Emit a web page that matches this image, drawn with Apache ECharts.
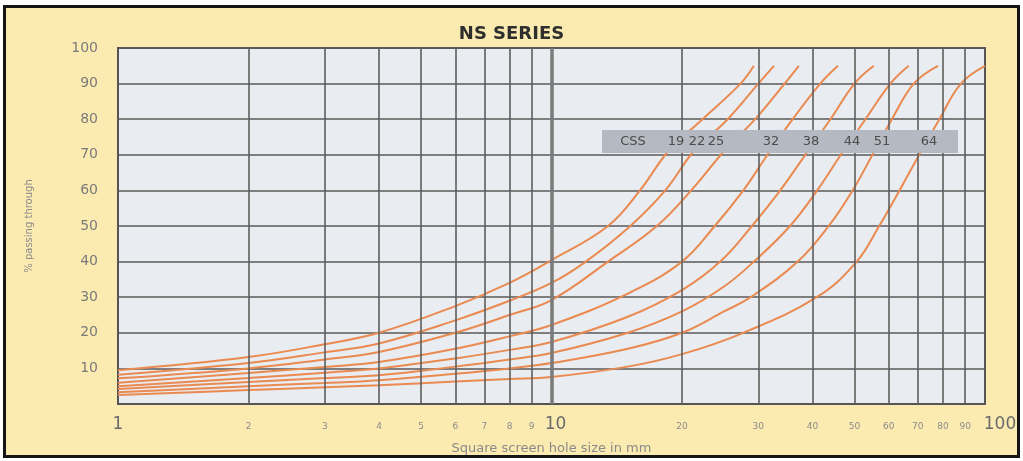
<!DOCTYPE html>
<html><head><meta charset="utf-8">
<script src="https://cdn.jsdelivr.net/npm/echarts@6/dist/echarts.min.js"></script>
<style>
html,body{margin:0;padding:0;background:#fff;}
#frame{position:absolute;left:3px;top:5px;width:1011px;height:447px;border:3px solid #151515;background:#FCEBB1;}
#c{position:absolute;left:0;top:0;width:1023px;height:461px;}
</style></head><body>
<div id="frame"></div><div id="c"></div>
<script>
const titleText = 'NS SERIES';
const xAxisName = 'Square screen hole size in mm';
const yAxisName = '% passing through';
const minorTicks = [2, 3, 4, 5, 6, 7, 8, 9, 20, 30, 40, 50, 60, 70, 80, 90];
const yTicks = [10, 20, 30, 40, 50, 60, 70, 80, 90, 100];
const seriesNames = ['CSS 19', 'CSS 22', 'CSS 25', 'CSS 32', 'CSS 38', 'CSS 44', 'CSS 51', 'CSS 64'];
const cssLabels = ['CSS', '19', '22', '25', '32', '38', '44', '51', '64'];

const css19 = [[1,9.5],[2,13.2],[3,16.8],[4,20],[6,27.5],[8,34],[10,40.4],[13.5,50],[16,60],[18.6,71],[22.3,80],[27.3,90],[29.3,95]];
const css22 = [[1,8.2],[2,11.5],[3,14.5],[4,17],[6,23.5],[8,29],[10,34],[12,40],[15.2,50],[18.3,60],[21.3,71],[25.5,80],[30,90],[32.6,95]];
const css25 = [[1,7.2],[2,10],[3,12.5],[4,14.6],[6,20],[8,25],[10,29.2],[13.5,40],[17.5,50],[21,60],[25,71],[29.5,80],[34.5,90],[37.2,95]];
const css32 = [[1,6],[2,8.7],[3,10.4],[4,11.8],[6,15.5],[8,19],[10,22.2],[15,31],[20,40],[23.8,50],[27.7,60],[31.5,70],[36,80],[41.7,90],[45.8,95]];
const css38 = [[1,5],[2,7.3],[3,8.8],[4,10],[6,12.8],[8,15.2],[10,17.4],[15,24.5],[20,32],[24.5,40],[29,50],[33.7,60],[38.5,70],[44,80],[50,90],[55.4,95]];
const css44 = [[1,4.2],[2,6.2],[3,7.3],[4,8.1],[6,10.5],[8,12.5],[10,14.3],[15,20],[20,26],[25,33],[29.3,40],[35.5,50],[41,60],[46.5,70],[53,80],[60.5,90],[66.7,95]];
const css51 = [[1,3.3],[2,5],[3,5.9],[4,6.7],[6,8.5],[8,10],[10,11.5],[15,15.5],[20,20],[25,26],[28.8,30],[37,40],[43.6,50],[49.5,60],[55,70],[61,80],[68.5,90],[77.9,95]];
const css64 = [[1,2.5],[2,3.9],[3,4.7],[4,5.3],[6,6.3],[8,7],[10,7.6],[15,10.5],[20,14],[27.7,20],[40.9,30],[50.6,40],[57,50],[63.5,60],[70.5,70],[78.5,80],[88,90],[100,95]];
const curves = [css19, css22, css25, css32, css38, css44, css51, css64];

const chart = echarts.init(document.getElementById('c'), null, {renderer: 'canvas'});
const FONT = 'DejaVu Sans';

const curveSeries = curves.map((d, i) => ({
  name: seriesNames[i],
  type: 'line',
  data: d,
  smooth: 0.4,
  symbol: 'none',
  z: 3,
  lineStyle: {color: '#EA8A50', width: 2},
  silent: true
}));

const gridLineSeries = {
  type: 'line',
  data: [[1, 0]],
  symbol: 'none',
  lineStyle: {opacity: 0},
  z: 1,
  silent: true,
  markLine: {
    silent: true,
    symbol: ['none', 'none'],
    animation: false,
    lineStyle: {color: '#5e5e5e', width: 1.6, type: 'solid'},
    label: {
      show: true, position: 'start', distance: 18,
      color: '#8a8a8a', fontSize: 9, fontFamily: FONT,
      formatter: p => String(p.value)
    },
    data: minorTicks.map(v => ({xAxis: v})).concat([
      {xAxis: 10, lineStyle: {color: '#7a7a7a', width: 3.5}, label: {show: false}}
    ])
  }
};

const labelX = [633, 676, 697, 716, 771, 811, 852, 882, 929];

chart.setOption({
  animation: false,
  backgroundColor: 'transparent',
  title: {
    text: titleText, left: 'center', top: 20,
    textStyle: {fontFamily: FONT, fontSize: 18, fontWeight: 'bold', color: '#2e2e2e'}
  },
  grid: {
    left: 118, right: 38, top: 48, bottom: 57,
    show: true, backgroundColor: '#E9ECF0', borderColor: '#555', borderWidth: 2
  },
  xAxis: {
    type: 'log', logBase: 10, min: 1, max: 100,
    name: xAxisName, nameLocation: 'middle', nameGap: 38,
    nameTextStyle: {fontFamily: FONT, fontSize: 13, color: '#8a8a8a'},
    axisLine: {show: true, lineStyle: {color: '#555', width: 2}},
    axisTick: {show: false},
    splitLine: {show: false},
    axisLabel: {
      fontFamily: FONT, fontSize: 17, color: '#6a6a6a', margin: 12, showMinLabel: true, showMaxLabel: true,
      formatter: v => v >= 100 ? '{r|' + v + '}' : (v >= 10 ? '{m|' + v + '}' : String(v)),
      rich: {
        r: {fontFamily: FONT, fontSize: 17, color: '#6a6a6a', padding: [0, 0, 0, 30]},
        m: {fontFamily: FONT, fontSize: 17, color: '#6a6a6a', padding: [0, 0, 0, 8]}
      }
    }
  },
  yAxis: {
    type: 'value', min: 0, max: 100, interval: 10,
    name: yAxisName, nameLocation: 'middle', nameGap: 84,
    nameTextStyle: {fontFamily: FONT, fontSize: 10, color: '#8a8a8a'},
    axisLine: {show: true, lineStyle: {color: '#555', width: 2}},
    axisTick: {show: false},
    axisLabel: {fontFamily: FONT, fontSize: 14, color: '#7a7a7a', margin: 20,
      formatter: v => yTicks.includes(v) ? String(v) : ''},
    splitLine: {show: true, lineStyle: {color: '#5a5a5a', width: 1.5}}
  },
  graphic: [
    {type: 'rect', z: 100, shape: {x: 602, y: 130, width: 356, height: 23}, style: {fill: '#B5BAC2'}}
  ].concat(cssLabels.map((t, i) => ({
    type: 'text', z: 101, x: labelX[i], y: 142,
    style: {text: t, fill: '#4c4c4c', font: '13px "DejaVu Sans"', align: 'center', verticalAlign: 'middle'}
  }))),
  series: [gridLineSeries].concat(curveSeries)
});
</script>
</body></html>
